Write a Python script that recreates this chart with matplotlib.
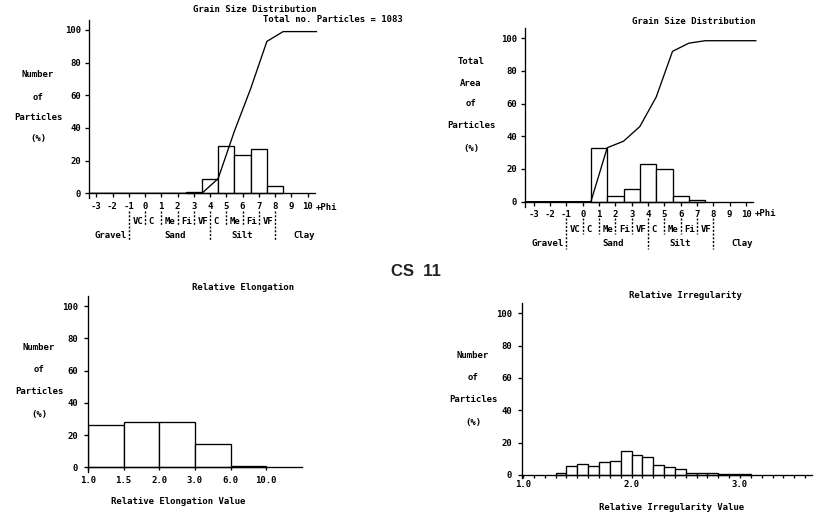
import matplotlib
matplotlib.use("Agg")
import matplotlib.pyplot as plt
import matplotlib.transforms as mtransforms
from matplotlib.lines import Line2D

W, H = 819, 525

# ---------------- data ----------------
phi_ticks = list(range(-3, 11))
phi_tick_labels = [str(v) for v in phi_ticks]
pct_ticks = [0, 20, 40, 60, 80, 100]

# Grain size distribution - number of particles
gs1_phi = [3, 4, 5, 6, 7, 8]
gs1_pct = [0.5, 9, 29, 23.5, 27, 4.5]
gs1_cum_phi = [-3.4, 3.5, 4.5, 5.5, 6.5, 7.5, 8.5, 10.55]
gs1_cum_pct = [0, 0, 9, 38, 64, 93, 99, 99]

# Grain size distribution - total area
gs2_phi = [1, 2, 3, 4, 5, 6, 7]
gs2_pct = [33, 3.5, 8, 23, 20, 3.5, 0.8]
gs2_cum_phi = [-3.5, 0.5, 1.5, 2.5, 3.5, 4.5, 5.5, 6.5, 7.5, 10.6]
gs2_cum_pct = [0, 0, 33, 37, 46, 64, 92, 97, 98.5, 98.5]

# size classes
class_bounds = [-1, 0, 1, 2, 3, 4, 5, 6, 7, 8]
class_long = [-1, 4, 8]
class_row1 = ["VC", "C", "Me", "Fi", "VF", "C", "Me", "Fi", "VF"]
class_row2 = ["Gravel", "Sand", "Silt", "Clay"]
class_row2_x = [-1.15, 1.2, 5.3, 9.1]
class_row2_ha = ["right", "left", "left", "left"]

# Relative elongation
elong_labels = ["1.0", "1.5", "2.0", "3.0", "6.0", "10.0"]
elong_pct = [26, 28.4, 28, 14.5, 0.8]

# Relative irregularity (bins of 0.1, left edges)
irr_edges = [1.3, 1.4, 1.5, 1.6, 1.7, 1.8, 1.9, 2.0, 2.1, 2.2, 2.3, 2.4,
             2.5, 2.6, 2.7, 2.8, 2.9, 3.0]
irr_pct = [1.2, 5.6, 6.5, 5.5, 7.7, 8.6, 14.6, 12.6, 11.0, 6.2, 5.0, 3.4,
           1.2, 1.0, 1.0, 0.4, 0.3, 0.3]
irr_major = [1.0, 2.0, 3.0]
irr_major_labels = ["1.0", "2.0", "3.0"]
irr_minor = [round(1.0 + 0.1 * i, 1) for i in range(27)]

# ---------------- style ----------------
plt.rcParams['font.family'] = ['DejaVu Sans Mono']
plt.rcParams['font.weight'] = 'bold'
FS = 6.5
LW = 0.95

fig = plt.figure(figsize=(W / 100, H / 100), dpi=100)
fig.patch.set_facecolor('white')


def add_ax(l, t, r, b):
    return fig.add_axes([l / W, 1 - b / H, (r - l) / W, (b - t) / H])


def style(ax, xlen=3, xpad=3, ypad=2.5):
    for s in ('top', 'right'):
        ax.spines[s].set_visible(False)
    ax.spines['left'].set_linewidth(LW)
    ax.spines['bottom'].set_linewidth(LW)
    ax.spines['bottom'].set_position(('data', 0))
    ax.set_facecolor('none')
    ax.tick_params(axis='y', direction='out', length=3, width=LW,
                   labelsize=FS, pad=ypad)
    ax.tick_params(axis='x', direction='out', length=xlen, width=LW,
                   labelsize=FS, pad=xpad)
    ax.set_yticks(pct_ticks)
    ax.set_yticklabels([str(v) for v in pct_ticks])


def ftext(x, y, s, **kw):
    kw.setdefault('ha', 'center')
    kw.setdefault('va', 'center')
    kw.setdefault('fontsize', FS)
    fig.text(x / W, 1 - y / H, s, **kw)


def blend(ax):
    return mtransforms.blended_transform_factory(ax.transData, fig.transFigure)


def classes(ax, y_row1, y_row2, y_top):
    tr = blend(ax)
    for b in class_bounds:
        yb = y_row2 + 5 if b in class_long else y_row1 + 5
        ln = Line2D([b, b], [1 - y_top / H, 1 - yb / H], transform=tr,
                    color='black', lw=1.0, linestyle=(0, (1.5, 1.2)),
                    clip_on=False)
        fig.add_artist(ln)
    for b, s in zip(class_bounds[:-1], class_row1):
        fig.text(b + 0.22, 1 - y_row1 / H, s, transform=tr, ha='left',
                 va='center', fontsize=FS)
    for x, s, ha in zip(class_row2_x, class_row2, class_row2_ha):
        fig.text(x, 1 - y_row2 / H, s, transform=tr, ha=ha, va='center',
                 fontsize=FS)


# ---------- top-left: grain size, number ----------
ax1 = add_ax(89, 20, 315, 198.2)
ax1.set_xlim((89 - 145) / 16.25, (315 - 145) / 16.25)
ax1.set_ylim(-3, 106.1)
style(ax1)
ax1.bar(gs1_phi, gs1_pct, width=1, color='white', edgecolor='black', lw=LW)
ax1.plot(gs1_cum_phi, gs1_cum_pct, color='black', lw=LW, clip_on=False)
ax1.set_xticks(phi_ticks)
ax1.set_xticklabels(phi_tick_labels)
fig.text(11.2, 1 - 207 / H, "+Phi", transform=blend(ax1), ha='center',
         va='center', fontsize=FS)
classes(ax1, 221, 236, 211)
ftext(255, 9, "Grain Size Distribution")
ftext(403, 19, "Total no. Particles = 1083", ha='right')
for y, s in zip([75, 97, 118, 138], ["Number", "of", "Particles", "(%)"]):
    ftext(38, y, s)

# ---------- top-right: grain size, area ----------
ax2 = add_ax(525, 28.3, 753, 207.4)
ax2.set_xlim((525 - 582.7) / 16.33, (753 - 582.7) / 16.33)
ax2.set_ylim(-3.5, 106.1)
style(ax2)
ax2.bar(gs2_phi, gs2_pct, width=1, color='white', edgecolor='black', lw=LW)
ax2.plot(gs2_cum_phi, gs2_cum_pct, color='black', lw=LW, clip_on=False)
ax2.set_xticks(phi_ticks)
ax2.set_xticklabels(phi_tick_labels)
fig.text(11.2, 1 - 214 / H, "+Phi", transform=blend(ax2), ha='center',
         va='center', fontsize=FS)
classes(ax2, 229, 244, 218)
ftext(694, 21, "Grain Size Distribution")
for y, s in zip([61, 83, 104, 126, 148],
                ["Total", "Area", "of", "Particles", "(%)"]):
    ftext(471, y, s)

# ---------- bottom-left: relative elongation ----------
ax3 = add_ax(88, 296, 302, 472)
ax3.set_xlim(0, 6)
ax3.set_ylim(-2.9, 106.2)
style(ax3, xlen=2, xpad=4, ypad=4)
ax3.bar(range(len(elong_pct)), elong_pct, width=1, align='edge',
        color='white', edgecolor='black', lw=LW)
ax3.set_xticks(range(len(elong_labels)))
ax3.set_xticklabels(elong_labels)
ftext(243, 288, "Relative Elongation")
ftext(178, 501, "Relative Elongation Value")
for y, s in zip([348, 369, 391, 414], ["Number", "of", "Particles", "(%)"]):
    ftext(39, y, s)

# ---------- bottom-right: relative irregularity ----------
ax4 = add_ax(521.7, 303, 811.7, 478)
ax4.set_xlim(1.0 + (521.7 - 523) / 108.5, 1.0 + (811.7 - 523) / 108.5)
ax4.set_ylim(-1.9, 106.4)
style(ax4, xlen=2.5, xpad=0.8, ypad=4)
ax4.bar(irr_edges, irr_pct, width=0.1, align='edge', color='white',
        edgecolor='black', lw=LW)
ax4.set_xticks(irr_major)
ax4.set_xticklabels(irr_major_labels)
ax4.set_xticks(irr_minor, minor=True)
ax4.tick_params(axis='x', which='minor', direction='out', length=2.5,
                width=LW)
ftext(685, 295, "Relative Irregularity")
ftext(672, 508, "Relative Irregularity Value")
for y, s in zip([355, 377, 399, 422], ["Number", "of", "Particles", "(%)"]):
    ftext(473, y, s)

# ---------- sample id ----------
fig.text(416 / W, 1 - 271 / H, "CS  11", ha='center', va='center',
         fontsize=12, fontweight='bold', family=['Liberation Sans'],
         color='#222222')

fig.savefig("out.png", dpi=100, facecolor='white')
